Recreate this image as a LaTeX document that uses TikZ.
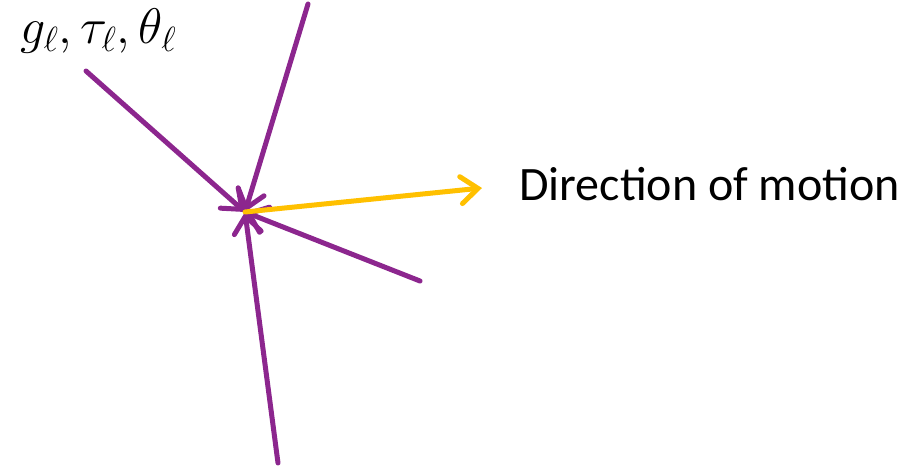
\documentclass[tikz,border=0pt]{standalone}
\usepackage{fix-cm}
\usepackage{fontspec}
\setmainfont{Carlito}
\usetikzlibrary{arrows.meta}
\definecolor{vio}{RGB}{140,38,142}
\definecolor{gold}{RGB}{255,192,0}
\tikzset{
  force/.style={draw=vio,line width=5pt,line cap=round,-{Straight Barb[length=17pt,width=27pt,line cap=round]}},
  motion/.style={draw=gold,line width=5pt,line cap=round,-{Straight Barb[length=17pt,width=27pt,line cap=round]}},
}
\begin{document}
\begin{tikzpicture}[x=1pt,y=-1pt]
\useasboundingbox (0,0) rectangle (907,467);
\coordinate (c) at (245,212);
\coordinate (a1) at (86,71);
\coordinate (a2) at (308,4);
\coordinate (a3) at (420,281);
\coordinate (a4) at (278,463);
\coordinate (d) at (482,188);
\draw[force] (a1) -- (c);
\draw[force] (a2) -- (c);
\draw[force] (a3) -- (c);
\draw[force] (a4) -- (c);
\draw[motion] (c) -- (d);
\node[anchor=west,font=\fontsize{48}{52}\selectfont,inner sep=0pt] (t) at (519,184) {Direction of motion};
\node[anchor=west,font=\fontsize{50}{54}\selectfont,inner sep=0pt] (g) at (20,31) {$g_\ell,\tau_\ell,\theta_\ell$};
\end{tikzpicture}
\end{document}
